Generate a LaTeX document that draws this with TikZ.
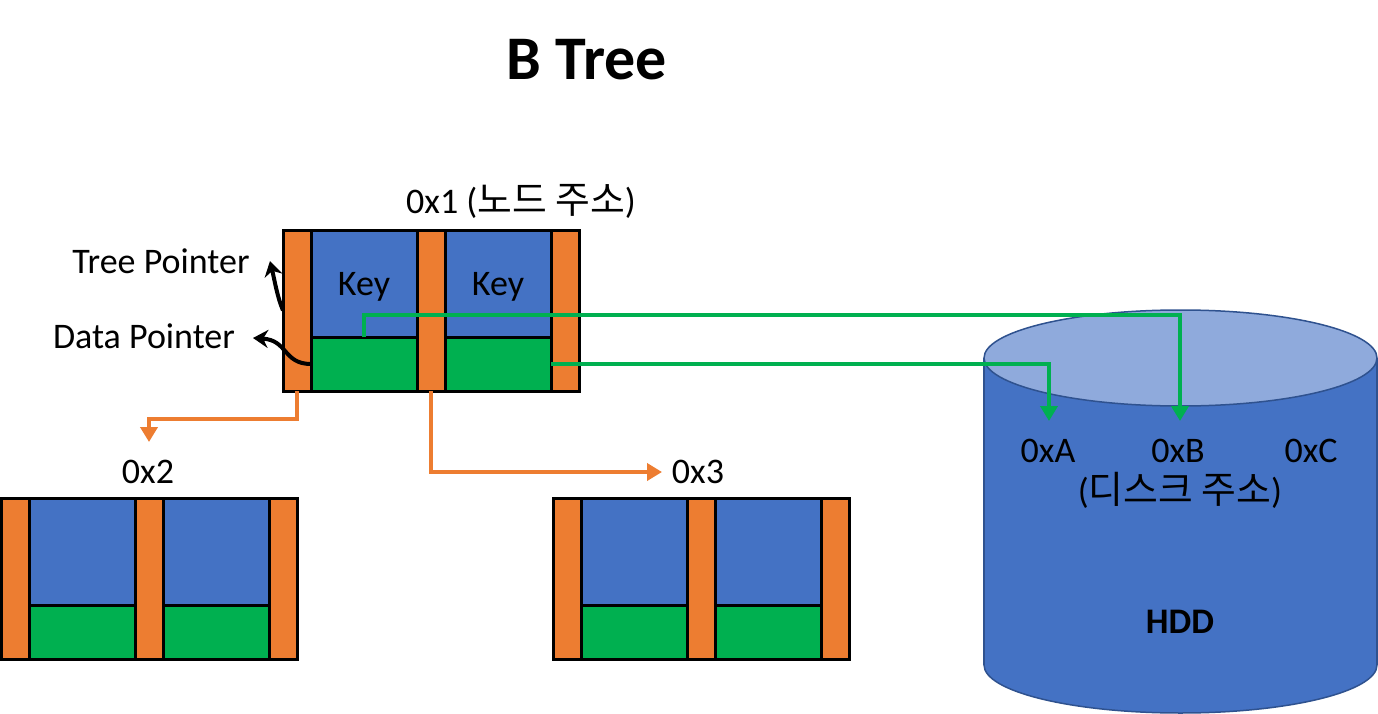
\documentclass[tikz,border=0pt]{standalone}
\usepackage{fontspec}
\setmainfont{Carlito}
\newfontfamily\kr{Noto Sans CJK KR}[Scale=1.05]
\usetikzlibrary{arrows.meta,calc}
\definecolor{orng}{HTML}{ED7D31}
\definecolor{blu}{HTML}{4472C4}
\definecolor{grn}{HTML}{00B050}
\definecolor{topblu}{HTML}{8FAADC}
\definecolor{cylb}{HTML}{2F528F}
\tikzset{
  cell/.style={draw=black,line width=3pt,inner sep=0pt,outer sep=0pt,anchor=north west},
  lbl/.style={font=\fontsize{36}{40}\selectfont,inner sep=0pt,anchor=base},
  keytxt/.style={font=\fontsize{36}{40}\selectfont,text depth=0pt},
  oarr/.style={draw=orng,line width=4pt,-{Triangle[width=17pt,length=15pt]}},
  garr/.style={draw=grn,line width=4pt,-{Triangle[width=17pt,length=15pt]}},
  barr/.style={draw=black,line width=4pt,-{Stealth[width=18pt,length=15pt]}},
}
\newcommand\bnode[4]{%
  \node[cell,fill=orng,minimum width=28pt,minimum height=161pt] (#1o1) at (#2,#3) {};
  \node[cell,fill=blu,minimum width=106pt,minimum height=107pt,keytxt] (#1k1) at (#2+28,#3) {#4};
  \node[cell,fill=grn,minimum width=106pt,minimum height=54pt] (#1d1) at (#2+28,#3+107) {};
  \node[cell,fill=orng,minimum width=28pt,minimum height=161pt] (#1o2) at (#2+134,#3) {};
  \node[cell,fill=blu,minimum width=106pt,minimum height=107pt,keytxt] (#1k2) at (#2+162,#3) {#4};
  \node[cell,fill=grn,minimum width=106pt,minimum height=54pt] (#1d2) at (#2+162,#3+107) {};
  \node[cell,fill=orng,minimum width=28pt,minimum height=161pt] (#1o3) at (#2+268,#3) {};
}
\begin{document}
\begin{tikzpicture}[x=1pt,y=-1pt]
\useasboundingbox (0,0) rectangle (1378,714);
\fill[white] (0,0) rectangle (1378,714);

% title
\node[font=\fontsize{62}{66}\selectfont\bfseries,inner sep=0pt,anchor=base] (title) at (587,80) {B Tree};

% HDD cylinder
\filldraw[fill=blu,draw=cylb,line width=1.5pt] (1180.5,665) ellipse [x radius=196.5, y radius=48];
\fill[blu] (984,358) rectangle (1377,665);
\draw[cylb,line width=1.5pt] (984,358) -- (984,665);
\draw[cylb,line width=1.5pt] (1377,358) -- (1377,665);
\filldraw[fill=topblu,draw=cylb,line width=1.5pt] (1180.5,358) ellipse [x radius=196.5, y radius=48];
\node[lbl] (xa) at (1048,462) {0xA};
\node[lbl] (xb) at (1178,462) {0xB};
\node[lbl] (xc) at (1311,462) {0xC};
\node[lbl] (disk) at (1180,503) {({\kr 디스크 주소})};
\node[lbl,font=\fontsize{36}{40}\selectfont\bfseries] (hdd) at (1180,633) {HDD};

% B-tree nodes
\bnode{a}{283}{230}{Key}
\bnode{b}{1}{498}{}
\bnode{c}{553}{498}{}

\node[lbl] (l1) at (521,214) {0x1 ({\kr 노드 주소})};
\node[lbl] (l2) at (148,483) {0x2};
\node[lbl] (l3) at (698,483) {0x3};
\node[lbl] (tptxt) at (161,273) {Tree Pointer};
\node[lbl] (dptxt) at (144,348) {Data Pointer};

% coordinates for free ends
\coordinate (t2) at (149,442);
\coordinate (t3) at (662,472);
\coordinate (tA) at (1049,421);
\coordinate (tB) at (1180,421);
\coordinate (tp) at (270,261);
\coordinate (dp) at (253,338);

% orange child pointers
\draw[oarr] (ao1.south) -- ++(0,28) -| (t2);
\draw[oarr] (ao2.south) |- (t3);

% green data pointers
\draw[garr] (ad1.north) -- ++(0,-22) -| (tB);
\draw[garr] (ad2.east) -| (tA);

% black curved pointers
\draw[barr] (ao1.west) .. controls (277,296) and (275,282) .. (tp);
\draw[barr] (ad1.west) .. controls (283,364) and (288,340) .. (dp);
\end{tikzpicture}
\end{document}
